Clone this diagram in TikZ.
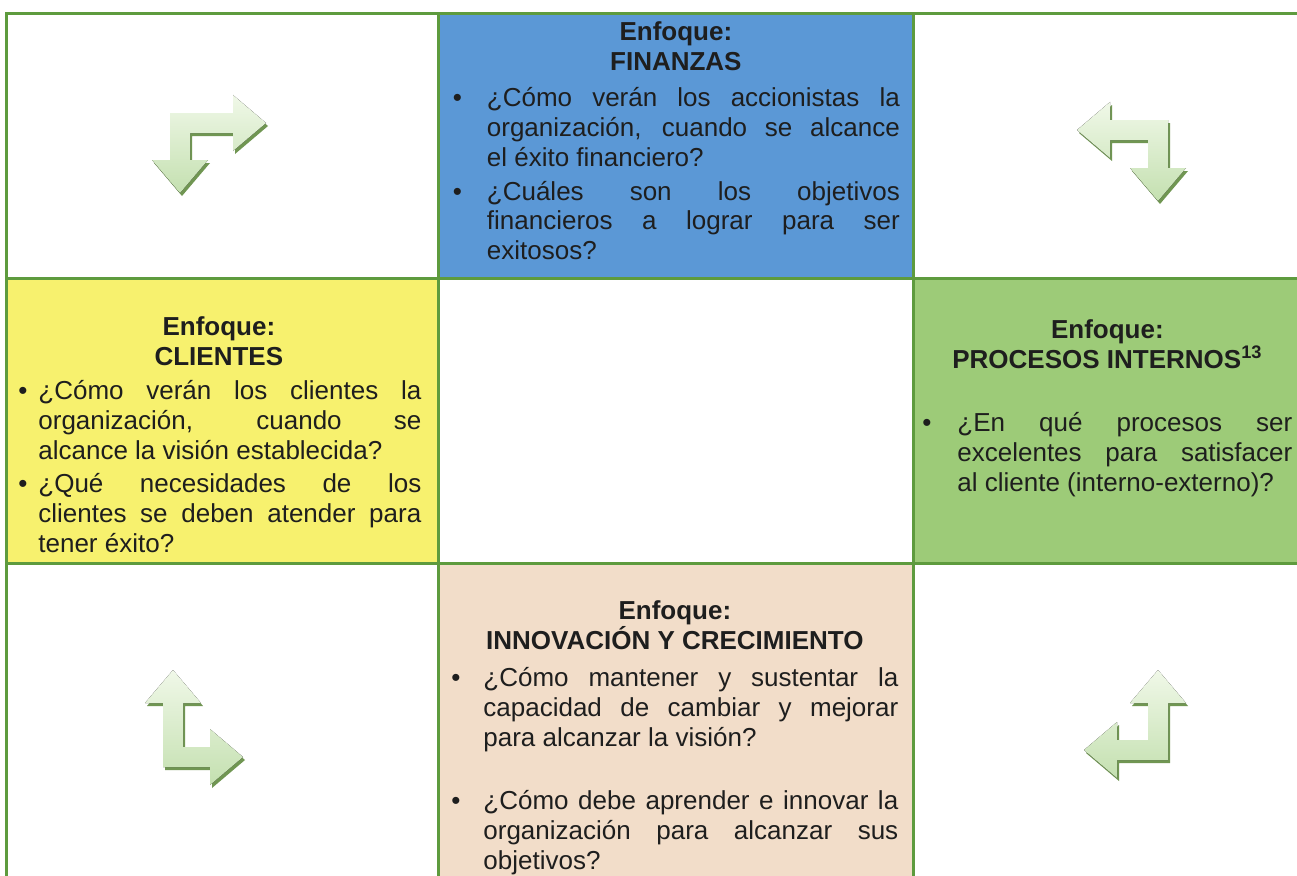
\documentclass[tikz,border=0pt]{standalone}
\usepackage{fontspec}
\setmainfont{Liberation Sans}
\usepackage{xcolor}
\usepackage{enumitem}
\usetikzlibrary{positioning}

\definecolor{azulfin}{RGB}{91,152,214}
\definecolor{amarillocli}{RGB}{247,241,110}
\definecolor{verdepro}{RGB}{157,203,120}
\definecolor{rosainn}{RGB}{242,221,201}
\definecolor{borde}{RGB}{94,155,62}
\definecolor{tinta}{RGB}{30,30,30}
\definecolor{flechaclara}{RGB}{240,248,232}
\definecolor{flechaverde}{RGB}{196,224,176}
\definecolor{sombraflecha}{RGB}{112,150,82}

\tikzstyle{celda} = [rectangle, draw=borde, line width=1.6pt, anchor=north west, inner sep=0pt]
\tikzstyle{texto} = [anchor=north, inner sep=0pt, align=justify, text=tinta, font=\fontsize{14.8}{17}\selectfont]
\tikzstyle{flechacuerpo} = [top color=flechaclara, bottom color=flechaverde]
\tikzstyle{flechasombra} = [fill=sombraflecha]

\setlist[itemize]{label=\textbullet, parsep=0pt, partopsep=0pt, topsep=0pt, itemsep=0pt}

% elbow arrow: arm a to the side head, arm b to the down head
\newcommand{\formaflecha}[2]{(0,0) -- (#1,0) -- (#1,-18) -- (#1+33,10) -- (#1,38) -- (#1,20) -- (20,20) -- (20,#2) -- (38,#2) -- (10,#2+33) -- (-18,#2) -- (0,#2) -- cycle}
\newcommand{\flechacodo}[6]{%
  \begin{scope}[shift={(#1+2,#2+3)}, xscale=#3, yscale=#4]
    \fill[flechasombra] \formaflecha{#5}{#6};
  \end{scope}
  \begin{scope}[shift={(#1,#2)}, xscale=#3, yscale=#4]
    \fill[flechacuerpo] \formaflecha{#5}{#6};
  \end{scope}}

\begin{document}
\begin{tikzpicture}[x=0.02cm, y=-0.02cm]
    \useasboundingbox (0,0) rectangle (1297,875);
    \hyphenpenalty=10000 \exhyphenpenalty=10000 \hbadness=10000

    % grid
    \node (c11) [celda, fill=white, minimum width=8.64cm, minimum height=5.3cm] at (5,12) {};
    \node (fin) [celda, fill=azulfin, minimum width=9.5cm, minimum height=5.3cm] at (437,12) {};
    \node (c13) [celda, fill=white, minimum width=7.76cm, minimum height=5.3cm] at (912,12) {};
    \node (cli) [celda, fill=amarillocli, minimum width=8.64cm, minimum height=5.7cm] at (5,277) {};
    \node (c22) [celda, fill=white, minimum width=9.5cm, minimum height=5.7cm] at (437,277) {};
    \node (pro) [celda, fill=verdepro, minimum width=7.76cm, minimum height=5.7cm] at (912,277) {};
    \node (c31) [celda, fill=white, minimum width=8.64cm, minimum height=6.32cm] at (5,562) {};
    \node (inn) [celda, fill=rosainn, minimum width=9.5cm, minimum height=6.32cm] at (437,562) {};
    \node (c33) [celda, fill=white, minimum width=7.76cm, minimum height=6.32cm] at (912,562) {};

    % texts
    \node (tfin) [texto, text width=8.96cm, below=0.18cm of fin.north] {%
        {\centering\bfseries Enfoque:\\ FINANZAS\par}
        \begin{itemize}[leftmargin=0.7cm, labelsep=0.5cm, topsep=4pt, itemsep=2pt]
        \item ¿Cómo verán los accionistas la\linebreak organización, cuando se alcance\linebreak el éxito financiero?
        \item ¿Cuáles son los objetivos\linebreak financieros a lograr para ser\linebreak exitosos?
        \end{itemize}};
    \node (tcli) [texto, text width=8.1cm, below=0.78cm of cli.north, xshift=-0.07cm] {%
        {\centering\bfseries Enfoque:\\ CLIENTES\par}
        \begin{itemize}[leftmargin=0.44cm, labelsep=0.22cm, topsep=2.5pt, itemsep=2pt]
        \item ¿Cómo verán los clientes la\linebreak organización, cuando se\linebreak alcance la visión establecida?
        \item ¿Qué necesidades de los\linebreak clientes se deben atender para\linebreak tener éxito?
        \end{itemize}};
    \node (tpro) [texto, text width=7.4cm, below=0.84cm of pro.north] {%
        {\centering\bfseries Enfoque:\\ PROCESOS INTERNOS\textsuperscript{13}\par}
        \begin{itemize}[leftmargin=0.7cm, labelsep=0.52cm, topsep=19pt]
        \item ¿En qué procesos ser\linebreak excelentes para satisfacer\linebreak al cliente (interno-externo)?
        \end{itemize}};
    \node (tinn) [texto, text width=8.94cm, below=0.76cm of inn.north, xshift=-0.02cm] {%
        {\centering\bfseries Enfoque:\\ INNOVACIÓN Y CRECIMIENTO\par}
        \begin{itemize}[leftmargin=0.64cm, labelsep=0.46cm, topsep=4.5pt, itemsep=19pt]
        \item ¿Cómo mantener y sustentar la\linebreak capacidad de cambiar y mejorar\linebreak para alcanzar la visión?
        \item ¿Cómo debe aprender e innovar la\linebreak organización para alcanzar sus\linebreak objetivos?
        \end{itemize}};

    % corner arrows
    \flechacodo{170}{113}{1}{1}{63}{47}
    \flechacodo{1168}{120}{-1}{1}{58}{48}
    \flechacodo{163}{767}{1}{-1}{47}{64}
    \flechacodo{1168}{760}{-1}{-1}{51}{57}
\end{tikzpicture}
\end{document}
